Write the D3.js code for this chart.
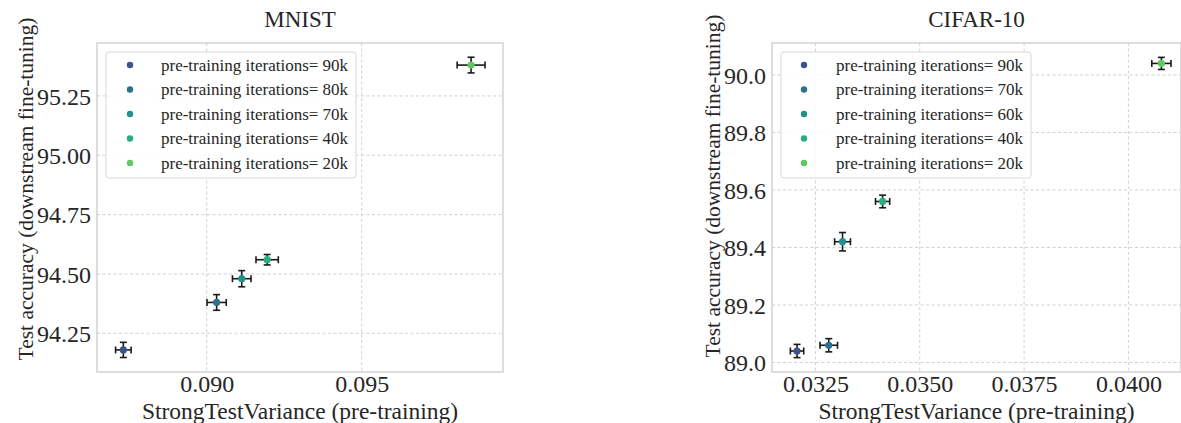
<!DOCTYPE html>
<html>
<head>
<meta charset="utf-8">
<script src="https://cdn.jsdelivr.net/npm/d3@7"></script>
<style>
  html, body { margin: 0; padding: 0; background: #fff; }
  svg { display: block; }
  svg text { font-family: "Liberation Serif", "Times New Roman", serif !important; }
</style>
</head>
<body>
<svg id="chart" width="1181" height="423"></svg>
<script>
// ---- data ----
const colors = ["#3b528b", "#2c728e", "#21918c", "#28ae80", "#5ec962"];

const mnistLabels = ["90k", "80k", "70k", "40k", "20k"];
const mnistX    = [0.08731, 0.09032, 0.09113, 0.09195, 0.09853];
const mnistY    = [94.18, 94.38, 94.48, 94.56, 95.38];
const mnistXErr = [0.00025, 0.00031, 0.00030, 0.00036, 0.00045];
const mnistYErr = [0.032, 0.033, 0.034, 0.022, 0.033];
const mnistXTicks = [0.090, 0.095];
const mnistYTicks = [94.25, 94.50, 94.75, 95.00, 95.25];

const cifarLabels = ["90k", "70k", "60k", "40k", "20k"];
const cifarX    = [0.03206, 0.03282, 0.03315, 0.03411, 0.04079];
const cifarY    = [89.04, 89.06, 89.42, 89.56, 90.04];
const cifarXErr = [0.00016, 0.00021, 0.00019, 0.00017, 0.00023];
const cifarYErr = [0.023, 0.023, 0.032, 0.022, 0.021];
const cifarXTicks = [0.0325, 0.0350, 0.0375, 0.0400];
const cifarYTicks = [89.0, 89.2, 89.4, 89.6, 89.8, 90.0];

const svg = d3.select("#chart");
const TXT = "#262626";

function panel(cfg) {
  const { left, right, top, bottom } = cfg.box;
  const x = d3.scaleLinear().domain(cfg.xDomain).range([left, right]);
  const y = d3.scaleLinear().domain(cfg.yDomain).range([bottom, top]);
  const g = svg.append("g");

  // grid
  g.selectAll(".gx").data(cfg.xTicks).enter().append("line")
    .attr("x1", d => x(d)).attr("x2", d => x(d))
    .attr("y1", top).attr("y2", bottom)
    .attr("stroke", "#d0d0d0").attr("stroke-width", 1).attr("stroke-dasharray", "3,2.5");
  g.selectAll(".gy").data(cfg.yTicks).enter().append("line")
    .attr("x1", left).attr("x2", right)
    .attr("y1", d => y(d)).attr("y2", d => y(d))
    .attr("stroke", "#d0d0d0").attr("stroke-width", 1).attr("stroke-dasharray", "3,2.5");

  // axes frame
  g.append("rect").attr("x", left).attr("y", top)
    .attr("width", right - left).attr("height", bottom - top)
    .attr("fill", "none").attr("stroke", "#cccccc").attr("stroke-width", 1.3);

  // axes via d3
  const xAxis = d3.axisBottom(x).tickValues(cfg.xTicks).tickFormat(cfg.xFmt).tickSize(0).tickPadding(0);
  const yAxis = d3.axisLeft(y).tickValues(cfg.yTicks).tickFormat(cfg.yFmt).tickSize(0).tickPadding(6);
  const gx = g.append("g").attr("transform", `translate(0,${bottom})`).call(xAxis)
    .attr("font-family", "Liberation Serif").attr("font-size", 24);
  gx.select(".domain").remove();
  gx.selectAll("text").attr("fill", TXT).attr("dy", null).attr("y", 20);
  const gy = g.append("g").attr("transform", `translate(${left},0)`).call(yAxis)
    .attr("font-family", "Liberation Serif").attr("font-size", 24);
  gy.select(".domain").remove();
  gy.selectAll("text").attr("fill", TXT).attr("dy", "0.34em");

  // title
  g.append("text").attr("x", (left + right) / 2).attr("y", 27)
    .attr("text-anchor", "middle").attr("font-size", 23).attr("fill", TXT)
    .text(cfg.title);
  // x label
  g.append("text").attr("x", (left + right) / 2).attr("y", 419)
    .attr("text-anchor", "middle").attr("font-size", 23.5).attr("fill", TXT)
    .text("StrongTestVariance (pre-training)");
  // y label
  g.append("text").attr("transform", `translate(${cfg.yLabelX},${cfg.yLabelY}) rotate(-90)`)
    .attr("text-anchor", "middle").attr("font-size", 21.5).attr("fill", TXT)
    .text("Test accuracy (downstream fine-tuning)");

  // error bars + points
  const data = cfg.xs.map((v, i) => ({ x: v, y: cfg.ys[i], xe: cfg.xErr[i], ye: cfg.yErr[i], c: colors[i] }));
  const cap = 3.5;
  const eb = g.append("g").attr("stroke", "#1a1a1a").attr("stroke-width", 1.6);
  data.forEach(d => {
    eb.append("line").attr("x1", x(d.x - d.xe)).attr("x2", x(d.x + d.xe)).attr("y1", y(d.y)).attr("y2", y(d.y));
    eb.append("line").attr("x1", x(d.x)).attr("x2", x(d.x)).attr("y1", y(d.y - d.ye)).attr("y2", y(d.y + d.ye));
    eb.append("line").attr("x1", x(d.x - d.xe)).attr("x2", x(d.x - d.xe)).attr("y1", y(d.y) - cap).attr("y2", y(d.y) + cap);
    eb.append("line").attr("x1", x(d.x + d.xe)).attr("x2", x(d.x + d.xe)).attr("y1", y(d.y) - cap).attr("y2", y(d.y) + cap);
    eb.append("line").attr("x1", x(d.x) - cap).attr("x2", x(d.x) + cap).attr("y1", y(d.y - d.ye)).attr("y2", y(d.y - d.ye));
    eb.append("line").attr("x1", x(d.x) - cap).attr("x2", x(d.x) + cap).attr("y1", y(d.y + d.ye)).attr("y2", y(d.y + d.ye));
  });
  g.selectAll(".pt").data(data).enter().append("circle")
    .attr("cx", d => x(d.x)).attr("cy", d => y(d.y)).attr("r", 3.6)
    .attr("fill", d => d.c);

  // legend
  const L = cfg.legend;
  g.append("rect").attr("x", L.x).attr("y", L.y).attr("width", L.w).attr("height", L.h)
    .attr("rx", 3).attr("fill", "rgba(255,255,255,0.85)").attr("stroke", "#d8d8d8").attr("stroke-width", 1);
  cfg.labels.forEach((lab, i) => {
    const ry = L.y + 13 + i * 24.5;
    g.append("circle").attr("cx", L.mx).attr("cy", ry).attr("r", 3.2).attr("fill", colors[i]);
    g.append("text").attr("x", L.tx).attr("y", ry).attr("dy", "0.34em")
      .attr("font-size", 17).attr("fill", TXT)
      .text("pre-training iterations= " + lab);
  });
}

panel({
  title: "MNIST",
  box: { left: 97, right: 503, top: 43, bottom: 372 },
  xDomain: [0.08646, 0.09956], yDomain: [94.087, 95.473],
  xTicks: mnistXTicks, yTicks: mnistYTicks,
  xFmt: d3.format(".3f"), yFmt: d3.format(".2f"),
  xs: mnistX, ys: mnistY, xErr: mnistXErr, yErr: mnistYErr, labels: mnistLabels,
  yLabelX: 33, yLabelY: 189,
  legend: { x: 106, y: 52, w: 250, h: 126, mx: 130, tx: 161 }
});

panel({
  title: "CIFAR-10",
  box: { left: 772, right: 1181, top: 43, bottom: 372 },
  xDomain: [0.03146, 0.04126], yDomain: [88.967, 90.111],
  xTicks: cifarXTicks, yTicks: cifarYTicks,
  xFmt: d3.format(".4f"), yFmt: d3.format(".1f"),
  xs: cifarX, ys: cifarY, xErr: cifarXErr, yErr: cifarYErr, labels: cifarLabels,
  yLabelX: 720, yLabelY: 186,
  legend: { x: 781, y: 52, w: 250, h: 126, mx: 804, tx: 836 }
});
</script>
</body>
</html>
